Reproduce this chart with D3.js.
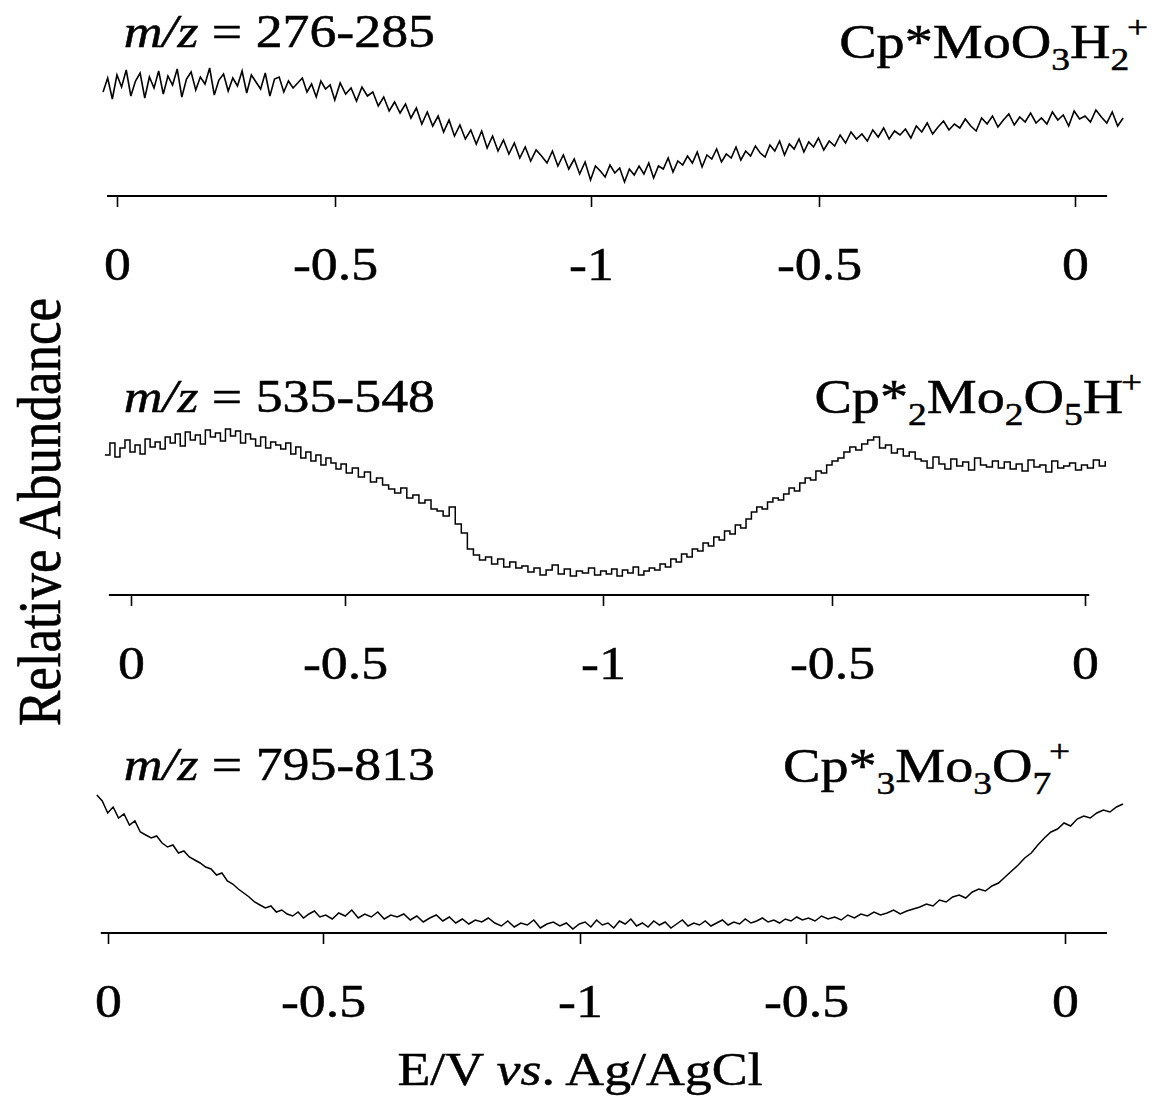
<!DOCTYPE html>
<html><head><meta charset="utf-8">
<script src="https://cdn.jsdelivr.net/npm/d3@7"></script>
<style>body{margin:0;background:#fff} svg{display:block}</style>
</head><body>
<svg id="c" width="1160" height="1097"></svg>
<script>
// ---------- data ----------
const tickValues = [0, 0.5, 1, 1.5, 2];            // sweep position (0 -> -1 V -> 0)
const tickLabels = ["0", "-0.5", "-1", "-0.5", "0"];
const massRanges = ["276-285", "535-548", "795-813"];
const sweepStart = [-0.032, -0.061, -0.026];
const sweepEnd   = [2.094, 2.04, 2.112];
const xTitle = "E/V vs. Ag/AgCl";
const yTitle = "Relative Abundance";

const trace1 = [104,118,97,121,109,126,100,115,123,98,119,108,125,
102,120,111,127,99,117,124,106,119,112,128,101,116,122,105,118,110,125,103,121,114,107,123,100,117,119,104,115,108,113,
118,104,112,99,115,107,111,96,113,102,108,95,109,100,
104,90,99,85,94,83,
92,78,88,72,84,70,80,64,76,60,71,57,66,
52,65,48,60,45,56,42,53,38,49,35,46,40,
33,45,30,41,27,37,22,34,16,30,25,
19,31,23,28,14,27,21,30,
22,33,18,30,27,38,24,35,31,40,
33,44,29,41,37,47,34,42,38,49,36,45,40,50,43,
39,51,45,55,41,52,47,57,44,54,49,58,46,55,
50,61,53,64,57,62,55,66,59,68,57,65,61,
67,58,70,64,73,62,69,75,66,72,68,77,70,
65,78,72,80,69,76,82,71,79,74,83,73,78,
72,84,76,81,70,85,77,80,74,86,79,
73,84,70,78];

const trace2 = [140,152,138,147,155,143,150,141,156,148,153,
146,158,152,161,149,163,155,160,151,165,158,162,154,166,
159,164,152,161,156,149,158,147,153,150,
146,152,141,148,137,143,134,140,130,137,132,
126,131,122,127,118,123,113,117,110,
106,102,107,97,100,92,95,86,
84,79,88,71,62,46,
40,35,38,31,36,28,33,27,
29,23,27,20,25,30,21,26,19,24,22,27,20,24,
21,26,19,25,22,28,20,24,27,
25,31,28,36,33,41,38,46,44,
52,49,58,55,64,61,70,67,76,
83,88,86,93,97,95,101,
107,104,112,117,115,124,122,130,134,
137,143,148,145,151,155,
158,147,150,142,146,139,143,136,
134,127,138,131,126,136,129,133,125,137,130,128,134,127,
133,126,131,124,135,128,130,123,134,127,129,132,125,130,
127,135,129,134];

const trace3 = [138,132,120,126,115,119,108,112,101,98,95,
97,90,86,88,80,82,76,73,70,66,64,
58,60,52,49,44,40,36,
31,28,25,27,21,23,19,
17,21,15,19,22,16,18,14,20,17,23,15,19,16,21,14,18,16,
19,13,17,11,15,18,12,16,10,14,9,13,11,15,10,
7,12,6,10,8,13,5,9,11,7,10,4,9,
11,6,13,8,10,5,12,9,14,7,10,6,12,8,11,5,9,13,7,10,8,
12,7,10,13,8,11,9,14,10,12,15,11,13,10,14,12,16,13,
15,12,17,14,16,13,18,15,19,17,21,18,20,23,19,22,24,
26,29,27,33,31,36,38,35,41,44,42,47,50,
56,62,68,75,80,88,95,101,
104,110,107,114,117,115,120,123,121,126,129];

const traces = [trace1, trace2, trace3];

// ion formulas: [text, kind] where kind: n=normal, b=subscript, p=superscript
const ion1 = [["Cp*MoO","n"],["3","b"],["H","n"],["2","b"],["+","p"]];
const ion2 = [["Cp*","n"],["2","b"],["Mo","n"],["2","b"],["O","n"],["5","b"],["H","n"],["+","p"]];
const ion3 = [["Cp*","n"],["3","b"],["Mo","n"],["3","b"],["O","n"],["7","b"],["+","p"]];
const ions = [ion1, ion2, ion3];

// ---------- layout ----------
const FONT = "'Liberation Serif','Times New Roman',Times,serif";
const SX = 1.17;   // horizontal stretch of the original figure's lettering
const panels = [
  {axisY:196, ticksX:[117,335,591,819,1075], mzX:435, mzY:47,  ionX:1148, ionY:58,  curve:d3.curveLinear,    sw:1.6},
  {axisY:595, ticksX:[131,345,603,832,1085], mzX:435, mzY:412, ionX:1142, ionY:413, curve:d3.curveStepAfter, sw:1.5},
  {axisY:933, ticksX:[108,323,580,806,1065], mzX:435, mzY:780, ionX:1070, ionY:782, curve:d3.curveLinear,    sw:1.5}
];
const yMax = 150, yPix = 150;

const svg = d3.select("#c");
svg.append("rect").attr("width",1160).attr("height",1097).attr("fill","#fff");

function heavy(sel) {
  return sel.attr("fill", "#000").attr("stroke", "#000").attr("stroke-width", 0.5);
}

panels.forEach((p, k) => {
  const g = svg.append("g");
  const x = d3.scaleLinear().domain(tickValues).range(p.ticksX);
  const y = d3.scaleLinear().domain([0, yMax]).range([p.axisY, p.axisY - yPix]);
  const data = traces[k];
  const n = data.length;
  const sx = d3.scaleLinear().domain([0, n - 1]).range([sweepStart[k], sweepEnd[k]]);

  // axis baseline
  g.append("line")
    .attr("x1", x(sweepStart[k]) + 4).attr("x2", x(sweepEnd[k]) - 16)
    .attr("y1", p.axisY).attr("y2", p.axisY)
    .attr("stroke", "#000").attr("stroke-width", 2);

  // ticks + labels via d3 axis
  const ax = d3.axisBottom(x).tickValues(tickValues)
    .tickFormat((d, i) => tickLabels[i]).tickSize(11).tickSizeOuter(0).tickPadding(40);
  const axg = g.append("g").attr("transform", `translate(0,${p.axisY})`).call(ax);
  axg.select(".domain").remove();
  axg.selectAll(".tick line").attr("stroke", "#000").attr("stroke-width", 1.6);
  heavy(axg.selectAll(".tick text"))
    .style("font-family", FONT).style("font-size", "46px")
    .attr("transform", `scale(${SX},1)`);

  // trace
  const line = d3.line().x((d, i) => x(sx(i))).y(d => y(d)).curve(p.curve);
  g.append("path").datum(data).attr("d", line)
    .attr("fill", "none").attr("stroke", "#000").attr("stroke-width", p.sw)
    .attr("stroke-linejoin", "miter");

  // m/z label
  const mz = heavy(g.append("text"))
    .attr("transform", `translate(${p.mzX},${p.mzY}) scale(${SX},1)`)
    .attr("text-anchor", "end")
    .style("font-family", FONT).style("font-size", "46px");
  mz.append("tspan").attr("font-style", "italic").text("m/z");
  mz.append("tspan").text(" = " + massRanges[k]);

  // ion formula
  const t = heavy(g.append("text"))
    .attr("transform", `translate(${p.ionX},${p.ionY}) scale(${SX},1)`)
    .attr("text-anchor", "end")
    .style("font-family", FONT).style("font-size", "48px");
  let cur = 0; // current baseline offset in px
  ions[k].forEach(([s, kind]) => {
    let target = 0, fs = 48;
    if (kind === "b") { target = 12; fs = 32; }
    if (kind === "p") { target = -20; fs = 32; }
    t.append("tspan").attr("dy", target - cur).style("font-size", fs + "px")
      .attr("dx", kind === "p" ? -2 : 0).text(s);
    cur = target;
  });
});

// y axis title
heavy(svg.append("text"))
  .attr("transform", `translate(60,512) rotate(-90) scale(1,${SX})`)
  .attr("text-anchor", "middle")
  .style("font-family", FONT).style("font-size", "53px")
  .text(yTitle);

// x axis title
const xt = heavy(svg.append("text"))
  .attr("transform", `translate(580,1085) scale(${SX},1)`)
  .attr("text-anchor", "middle")
  .style("font-family", FONT).style("font-size", "46px");
xt.append("tspan").text("E/V ");
xt.append("tspan").attr("font-style", "italic").text("vs");
xt.append("tspan").text(". Ag/AgCl");
</script>
</body></html>
